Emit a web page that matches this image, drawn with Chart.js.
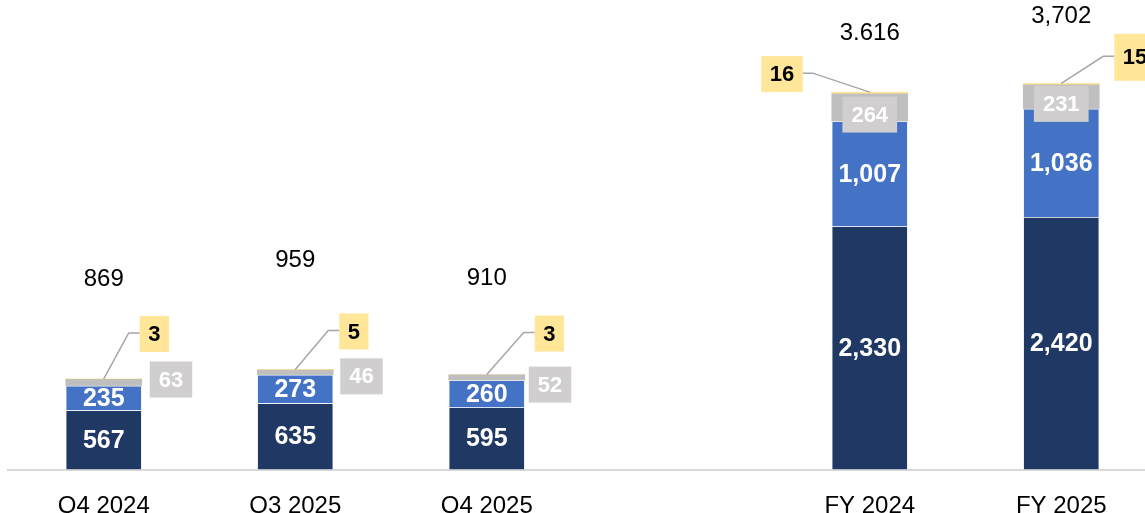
<!DOCTYPE html>
<html>
<head>
<meta charset="utf-8">
<script src="https://cdn.jsdelivr.net/npm/chart.js@4.4.1/dist/chart.umd.min.js"></script>
<style>
  html, body { margin: 0; padding: 0; background: #fff; overflow: hidden; }
  #frame { width: 1145px; height: 513px; overflow: hidden; }
  #wrap { width: 1160px; height: 513px; position: relative; }
</style>
</head>
<body>
<div id="frame"><div id="wrap"><canvas id="chart"></canvas></div></div>
<script>
// Dati del grafico
const categories = ["Q4 2024", "Q3 2025", "Q4 2025", "", "FY 2024", "FY 2025"];
const coreValues = [567, 635, 595, null, 2330, 2420];
const secondValues = [235, 273, 260, null, 1007, 1036];
const otherValues = [63, 46, 52, null, 264, 231];
const minorValues = [3, 5, 3, null, 16, 15];
const totalLabels = ["869", "959", "910", "", "3.616", "3,702"];

const FONT = "'Liberation Sans', Arial, sans-serif";

function fmt(v) {
    return v.toLocaleString("en-US");
}

// Etichette dei segmenti, riquadri e totali
const segmentLabels = {
    id: "segmentLabels",
    afterDatasetsDraw(chart, args, opts) {
        const ctx = chart.ctx;
        const metas = [0, 1, 2, 3].map(d => chart.getDatasetMeta(d));
        ctx.save();
        ctx.textAlign = "center";
        ctx.textBaseline = "middle";

        categories.forEach((cat, i) => {
            if (coreValues[i] == null) return;

            // valori dentro le barre
            ctx.font = "bold 25px " + FONT;
            ctx.fillStyle = "#ffffff";
            [0, 1].forEach(d => {
                const el = metas[d].data[i];
                ctx.fillText(fmt(chart.data.datasets[d].data[i]), el.x, (el.y + el.base) / 2 + 1);
            });

            // riquadro grigio
            const g = metas[2].data[i];
            const gp = opts.grayPos[i];
            ctx.font = "bold 22px " + FONT;
            const gText = fmt(otherValues[i]);
            const gw = ctx.measureText(gText).width + 18;
            const gy = (g.y + g.base) / 2 + gp.dy;
            const gx = gp.inside ? g.x : g.x + g.width / 2 + gp.dx + gw / 2;
            ctx.fillStyle = "#d0cece";
            ctx.fillRect(gx - gw / 2, gy - 18, gw, 36);
            ctx.fillStyle = "#ffffff";
            ctx.fillText(gText, gx, gy + 1);

            // riquadro giallo con linea
            const y = metas[3].data[i];
            const yp = opts.yellowPos[i];
            const yText = fmt(minorValues[i]);
            const yw = ctx.measureText(yText).width + 17;
            const cy = y.y + yp.dy;
            let edge, boxLeft, elbowX;
            if (yp.side === "right") {
                edge = y.x + y.width / 2 + yp.gap;
                boxLeft = edge;
                elbowX = edge - 11;
            } else {
                edge = y.x - y.width / 2 - yp.gap;
                boxLeft = edge - yw;
                elbowX = edge + 10;
            }
            ctx.strokeStyle = "#a6a6a6";
            ctx.lineWidth = 1.5;
            ctx.beginPath();
            ctx.moveTo(y.x, y.y);
            ctx.lineTo(elbowX, cy - 1);
            ctx.lineTo(edge, cy - 1);
            ctx.stroke();
            ctx.fillStyle = "#ffe699";
            ctx.fillRect(boxLeft, cy - yp.h / 2, yw, yp.h);
            ctx.fillStyle = "#000000";
            ctx.fillText(yText, boxLeft + yw / 2, cy + 1);

            // totale
            ctx.font = "24px " + FONT;
            ctx.fillStyle = "#000000";
            ctx.fillText(totalLabels[i], y.x, y.y - opts.totalGap[i]);
        });
        ctx.restore();
    }
};

const ctx = document.getElementById("chart").getContext("2d");

new Chart(ctx, {
    type: "bar",
    data: {
        labels: categories,
        datasets: [
            { label: "Core", data: coreValues, backgroundColor: "#203864", borderColor: "rgba(255,255,255,0.45)", borderWidth: 1 },
            { label: "Second", data: secondValues, backgroundColor: "#4472c4", borderColor: "rgba(255,255,255,0.45)", borderWidth: 1 },
            { label: "Other", data: otherValues, backgroundColor: "#bfbfbf", borderWidth: 0 },
            { label: "Minor", data: minorValues, backgroundColor: "#ffe699", borderWidth: 0 }
        ]
    },
    options: {
        responsive: true,
        maintainAspectRatio: false,
        animation: false,
        barThickness: 76,
        layout: { padding: { left: 8, right: 3, top: 0, bottom: 0 } },
        plugins: {
            legend: { display: false },
            tooltip: { enabled: false },
            segmentLabels: {
                grayPos: [
                    { dx: 8, dy: -3 }, { dx: 7, dy: 4 }, { dx: 4, dy: 7 }, null,
                    { inside: true, dy: 7 }, { inside: true, dy: 7 }
                ],
                yellowPos: [
                    { side: "right", gap: -2, dy: -45, h: 36 },
                    { side: "right", gap: 6, dy: -38, h: 36 },
                    { side: "right", gap: 10, dy: -41, h: 36 },
                    null,
                    { side: "left", gap: 29, dy: -18, h: 36 },
                    { side: "right", gap: 15, dy: -26, h: 47 }
                ],
                totalGap: [100, 109, 96, 0, 59, 67]
            }
        },
        scales: {
            x: {
                stacked: true,
                grid: { display: false },
                border: { display: true, color: "#d9d9d9", width: 2 },
                ticks: { color: "#000000", font: { family: FONT, size: 24 }, padding: 14, maxRotation: 0, autoSkip: false },
                afterFit: scale => { scale.height = 43.5; }
            },
            y: {
                stacked: true,
                display: false,
                min: 0,
                max: 4500
            }
        }
    },
    plugins: [segmentLabels]
});
</script>
</body>
</html>
